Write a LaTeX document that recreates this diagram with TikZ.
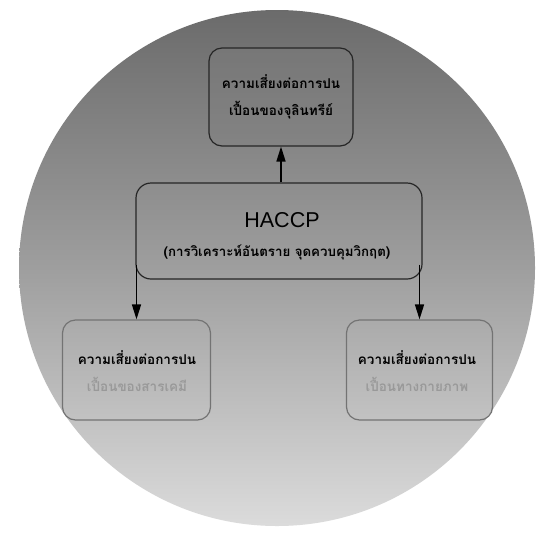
\documentclass[tikz,border=0pt]{standalone}
\usepackage{fontspec}
\setmainfont{Liberation Sans}
\newfontfamily\thaifont[Script=Thai]{Loma}
\usetikzlibrary{arrows.meta}
\begin{document}
\begin{tikzpicture}[x=1pt,y=-1pt,
  box/.style={draw=black!85, line width=1.2pt, rounded corners=13pt, inner sep=0pt},
  thai/.style={font=\thaifont\bfseries\fontsize{13.5}{27}\selectfont, inner sep=0pt, align=center},
  link/.style={line width=1.6pt, draw=black, -{Triangle[length=15pt,width=9pt]}}]
  \useasboundingbox (0,0) rectangle (537,533);
  \fill[white] (0,0) rectangle (537,533);
  % shaded disc behind the chart
  \shade[top color=black!58, bottom color=black!14, middle color=black!38] (277,268) circle (258);
  % boxes
  \node[box, minimum width=144pt, minimum height=98pt, fill=black!50, fill opacity=0.35] (top) at (281,97) {};
  \node[box, minimum width=286pt, minimum height=96pt, rounded corners=15pt] (mid) at (279,231) {};
  \node[box, minimum width=148pt, minimum height=100pt, draw=black!55] (left) at (136.5,370) {};
  \node[box, minimum width=146pt, minimum height=100pt, draw=black!55] (right) at (419.5,370) {};
  % labels
  \node[thai] (tt) at (281,97) {ความเสี่ยงต่อการปน\\เปื้อนของจุลินทรีย์};
  \node[font=\fontsize{21.5}{24}\selectfont, inner sep=0pt] (h1) at (282,220) {HACCP};
  \node[thai, font=\thaifont\bfseries\fontsize{13.3}{15}\selectfont] (h2) at (277,252) {(การวิเคราะห์อันตราย จุดควบคุมวิกฤต)};
  \node[thai] (lt) at (137,371) {ความเสี่ยงต่อการปน\\\textcolor{black!40}{เปื้อนของสารเคมี}};
  \node[thai] (rt) at (417,371) {ความเสี่ยงต่อการปน\\\textcolor{black!40}{เปื้อนทางกายภาพ}};
  % connectors
  \draw[link] (mid.north -| top.south) -- (top.south);
  \draw[link] ([yshift=15pt]left.north |- mid.south) -- (left.north);
  \draw[link] ([yshift=15pt]right.north |- mid.south) -- (right.north);
\end{tikzpicture}
\end{document}
